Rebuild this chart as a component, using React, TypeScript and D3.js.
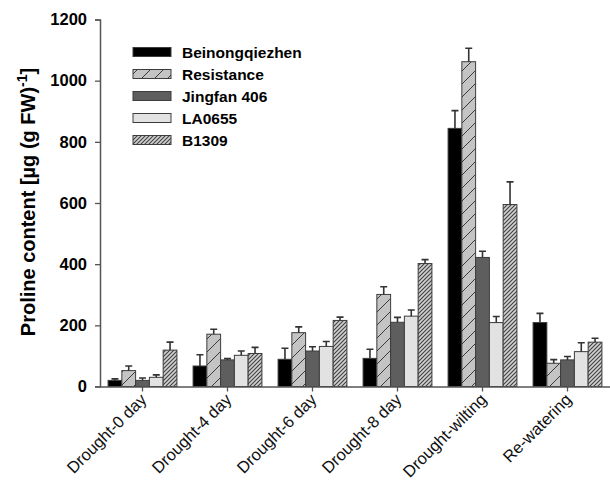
import React, { useEffect, useRef } from "react";
import * as d3 from "d3";

const categories = [
  "Drought-0 day",
  "Drought-4 day",
  "Drought-6 day",
  "Drought-8 day",
  "Drought-wilting",
  "Re-watering",
];
const seriesNames = ["Beinongqiezhen", "Resistance", "Jingfan 406", "LA0655", "B1309"];

// means per cultivar, one entry per stage
const beinong = [20, 67, 89, 92, 844, 209];
const resistance = [52, 171, 176, 301, 1062, 76];
const jingfan = [20, 87, 116, 210, 422, 87];
const la0655 = [30, 102, 131, 230, 209, 114];
const b1309 = [119, 108, 216, 402, 595, 145];

// standard errors (upper bars only)
const beinongErr = [5, 37, 36, 30, 58, 30];
const resistanceErr = [15, 16, 19, 25, 44, 12];
const jingfanErr = [8, 4, 14, 16, 20, 11];
const la0655Err = [8, 14, 16, 20, 20, 29];
const b1309Err = [26, 20, 11, 13, 74, 13];

const yTicks = [0, 200, 400, 600, 800, 1000, 1200];

const App = () => {
  const ref = useRef<SVGSVGElement>(null);

  useEffect(() => {
    const width = 610;
    const height = 486;
    const svg = d3.select(ref.current);
    svg.selectAll("*").remove();
    svg.attr("width", width).attr("height", height);

    const means = [beinong, resistance, jingfan, la0655, b1309];
    const errs = [beinongErr, resistanceErr, jingfanErr, la0655Err, b1309Err];

    const defs = svg.append("defs");
    // wide hatch for Resistance
    const p1 = defs
      .append("pattern")
      .attr("id", "hatchWide")
      .attr("patternUnits", "userSpaceOnUse")
      .attr("width", 13)
      .attr("height", 13);
    p1.append("rect").attr("width", 13).attr("height", 13).attr("fill", "#c4c4c4");
    p1.append("path")
      .attr("d", "M0,13 L13,0 M-2,2 L2,-2 M11,15 L15,11")
      .attr("stroke", "#3a3a3a")
      .attr("stroke-width", 1);
    // dense hatch for B1309
    const p2 = defs
      .append("pattern")
      .attr("id", "hatchDense")
      .attr("patternUnits", "userSpaceOnUse")
      .attr("width", 4)
      .attr("height", 4);
    p2.append("rect").attr("width", 4).attr("height", 4).attr("fill", "#d0d0d0");
    p2.append("path")
      .attr("d", "M0,4 L4,0 M-1,1 L1,-1 M3,5 L5,3")
      .attr("stroke", "#404040")
      .attr("stroke-width", 1.1);

    const fills = ["#000000", "url(#hatchWide)", "#5e5e5e", "#e2e2e2", "url(#hatchDense)"];

    const x = d3
      .scaleBand()
      .domain(categories)
      .range([100, 610])
      .paddingInner(0.19)
      .paddingOuter(0.095);
    const xs = d3.scaleBand().domain(seriesNames).range([0, x.bandwidth()]);
    const y = d3.scaleLinear().domain([0, 1200]).range([386.5, 19.5]);

    // bars
    seriesNames.forEach((name, si) => {
      const g = svg.append("g");
      g.selectAll("rect")
        .data(categories)
        .join("rect")
        .attr("x", (c) => x(c)! + xs(name)!)
        .attr("y", (c, i) => y(means[si][i]))
        .attr("width", xs.bandwidth())
        .attr("height", (c, i) => y(0) - y(means[si][i]))
        .attr("fill", fills[si])
        .attr("stroke", "#3c3c3c")
        .attr("stroke-width", 1);

      // error bars
      g.selectAll("path.err")
        .data(categories)
        .join("path")
        .attr("class", "err")
        .attr("d", (c, i) => {
          const cx = x(c)! + xs(name)! + xs.bandwidth() / 2;
          const top = y(means[si][i] + errs[si][i]);
          const base = y(means[si][i]);
          return `M${cx},${base} V${top} M${cx - 3.5},${top} H${cx + 3.5}`;
        })
        .attr("fill", "none")
        .attr("stroke", "#333")
        .attr("stroke-width", 1.6);
    });

    // y axis
    const yAxis = svg
      .append("g")
      .attr("transform", "translate(100,0)")
      .call(
        d3
          .axisLeft(y)
          .tickValues(yTicks)
          .tickFormat(d3.format("d"))
          .tickSize(5)
          .tickPadding(8)
      );
    yAxis.select(".domain").attr("stroke", "#555").attr("stroke-width", 1.5);
    yAxis.selectAll("line").attr("stroke", "#555").attr("stroke-width", 1.3);
    yAxis
      .selectAll("text")
      .attr("fill", "#000")
      .style("font-family", "Liberation Sans, Arial, sans-serif")
      .style("font-size", "16.5px")
      .style("font-weight", "bold");

    // x axis
    const xAxis = svg
      .append("g")
      .attr("transform", `translate(0,${y(0)})`)
      .call(d3.axisBottom(x).tickSize(5).tickSizeOuter(0).tickFormat(() => ""));
    xAxis.select(".domain").attr("stroke", "#555").attr("stroke-width", 1.5);
    xAxis.selectAll("line").attr("stroke", "#555").attr("stroke-width", 1.3);

    // rotated category labels
    svg
      .append("g")
      .selectAll("text")
      .data(categories)
      .join("text")
      .attr(
        "transform",
        (c) => `translate(${x(c)! + x.bandwidth() / 2 + 1},${y(0) + 10}) rotate(-45)`
      )
      .attr("text-anchor", "end")
      .attr("dy", "0.35em")
      .style("font-family", "Liberation Sans, Arial, sans-serif")
      .style("font-size", "16.5px")
      .attr("fill", "#111")
      .text((c) => c);

    // y label
    const yl = svg
      .append("text")
      .attr("transform", "translate(35,202) rotate(-90)")
      .attr("text-anchor", "middle")
      .style("font-family", "Liberation Sans, Arial, sans-serif")
      .style("font-size", "20px")
      .style("font-weight", "bold")
      .attr("fill", "#000");
    yl.append("tspan").text("Proline content [µg (g FW)");
    yl.append("tspan").attr("dy", -8).style("font-size", "14px").text("-1");
    yl.append("tspan").attr("dy", 8).text("]");

    // legend
    const legend = svg
      .append("g")
      .selectAll("g")
      .data(seriesNames)
      .join("g")
      .attr("transform", (d, i) => `translate(133,${52 + i * 22})`);
    legend
      .append("rect")
      .attr("x", 0)
      .attr("y", -4.5)
      .attr("width", 38)
      .attr("height", 9)
      .attr("fill", (d, i) => fills[i])
      .attr("stroke", "#3c3c3c")
      .attr("stroke-width", 1);
    legend
      .append("text")
      .attr("x", 49)
      .attr("dy", "0.36em")
      .style("font-family", "Liberation Sans, Arial, sans-serif")
      .style("font-size", "15.5px")
      .style("font-weight", "bold")
      .attr("fill", "#000")
      .text((d) => d);
  }, []);

  return (
    <div>
      <svg
        ref={ref}
        style={{ position: "absolute", left: 0, top: 0, background: "#fff" }}
      ></svg>
    </div>
  );
};

export default App;
